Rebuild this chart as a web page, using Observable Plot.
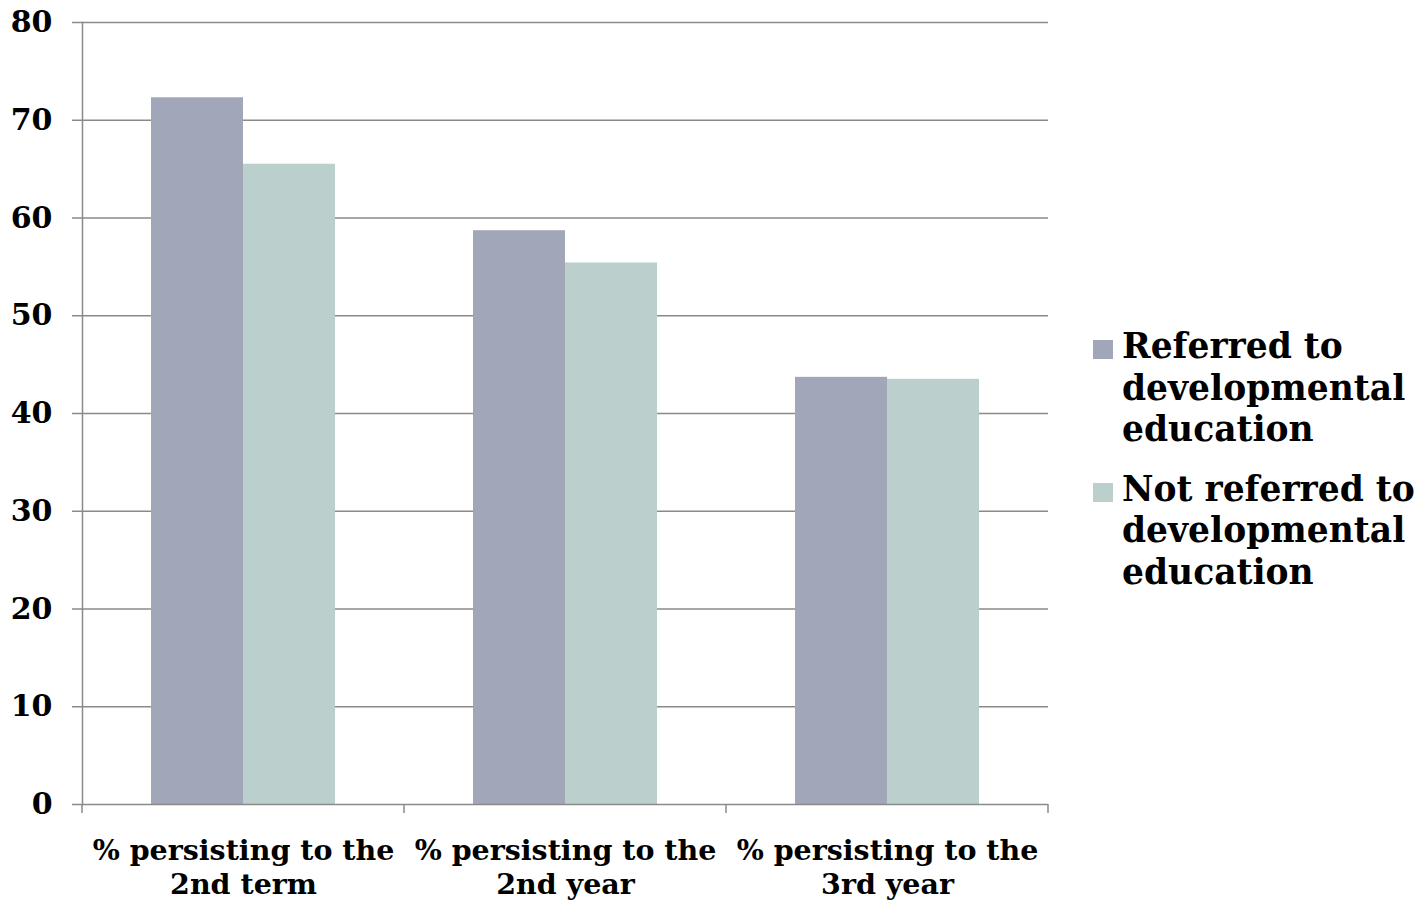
<!DOCTYPE html>
<html><head><meta charset="utf-8">
<script src="https://cdn.jsdelivr.net/npm/d3@7"></script>
<script src="https://cdn.jsdelivr.net/npm/@observablehq/plot@0.6"></script>
<style>
body{margin:0;background:#fff;}
#wrap{position:relative;width:1421px;height:906px;font-family:"DejaVu Serif",serif;font-weight:bold;}
#legend{position:absolute;left:1093px;top:326px;font-size:34.5px;line-height:41.5px;color:#000;}
.item{display:flex;align-items:flex-start;margin-bottom:18px;}
.sw{width:20px;height:19px;margin-top:14px;margin-right:9px;flex:none;}
.lab{white-space:pre-line;}
</style></head>
<body><div id="wrap"><div id="legend"></div></div>
<script>
const categories = ["% persisting to the\n2nd term", "% persisting to the\n2nd year", "% persisting to the\n3rd year"];
const seriesNames = ["Referred to developmental education", "Not referred to developmental education"];
const legendLabels = ["Referred to\ndevelopmental\neducation", "Not referred to\ndevelopmental\neducation"];
const referred = [72.3, 58.7, 43.7];
const notReferred = [65.5, 55.4, 43.5];
const yTicks = [0, 10, 20, 30, 40, 50, 60, 70, 80];
const colors = ["#A1A6B9", "#BBCFCC"];
const gridColor = "#8a8a8a";

const data = categories.flatMap((c, i) => [
  {cat: c, series: seriesNames[0], value: referred[i]},
  {cat: c, series: seriesNames[1], value: notReferred[i]}
]);

const plot = Plot.plot({
  width: 1421, height: 906,
  marginLeft: 82, marginRight: 373, marginTop: 22, marginBottom: 102,
  style: {fontFamily: '"DejaVu Serif", serif', fontWeight: "bold", color: "#000", background: "#fff", overflow: "visible"},
  fx: {domain: categories, padding: 0, label: null},
  x: {domain: seriesNames, paddingInner: 0, paddingOuter: 0.75, axis: null},
  y: {domain: [0, 80], label: null},
  color: {domain: seriesNames, range: colors},
  marks: [
    Plot.ruleY(yTicks.filter(d => d > 0), {stroke: gridColor, strokeWidth: 1.5}),
    Plot.barY(data, {fx: "cat", x: "series", y: "value", fill: "series"}),
    Plot.axisY({ticks: yTicks, tickSize: 10, tickPadding: 20, stroke: gridColor, strokeWidth: 1.5, fontSize: 30, label: null, fill: "#000"}),
    Plot.axisFx({anchor: "bottom", tickSize: 0, tickPadding: 32, fontSize: 28.5, lineHeight: 1.17, label: null, fill: "#000"}),
    Plot.ruleY([0], {stroke: gridColor, strokeWidth: 1.5}),
    Plot.frame({anchor: "left", facetAnchor: "left", stroke: gridColor, strokeWidth: 1.5})
  ]
});

const wrap = document.getElementById("wrap");
wrap.insertBefore(plot, wrap.firstChild);

// boundary ticks between categories on the bottom axis, positioned from the fx and y scales
try {
  const fxs = plot.scale("fx");
  const band = d3.scaleBand().domain(fxs.domain).range(fxs.range).padding(0);
  const yOpts = plot.scale("y");
  const ys = d3.scaleLinear().domain(yOpts.domain).range(yOpts.range);
  const y0 = ys(0);
  const last = fxs.domain[fxs.domain.length - 1];
  const edges = fxs.domain.map(d => band(d)).concat([band(last) + band.bandwidth()]);
  d3.select(plot).append("g")
    .selectAll("line").data(edges).join("line")
    .attr("x1", d => d).attr("x2", d => d)
    .attr("y1", y0).attr("y2", y0 + 9)
    .attr("stroke", gridColor).attr("stroke-width", 1.5);
} catch (e) { console.error(e); }

const legend = document.getElementById("legend");
legendLabels.forEach((lab, i) => {
  const item = document.createElement("div"); item.className = "item";
  const sw = document.createElement("div"); sw.className = "sw"; sw.style.background = colors[i];
  const t = document.createElement("div"); t.className = "lab"; t.textContent = lab;
  item.appendChild(sw); item.appendChild(t); legend.appendChild(item);
});
</script>
</body></html>
